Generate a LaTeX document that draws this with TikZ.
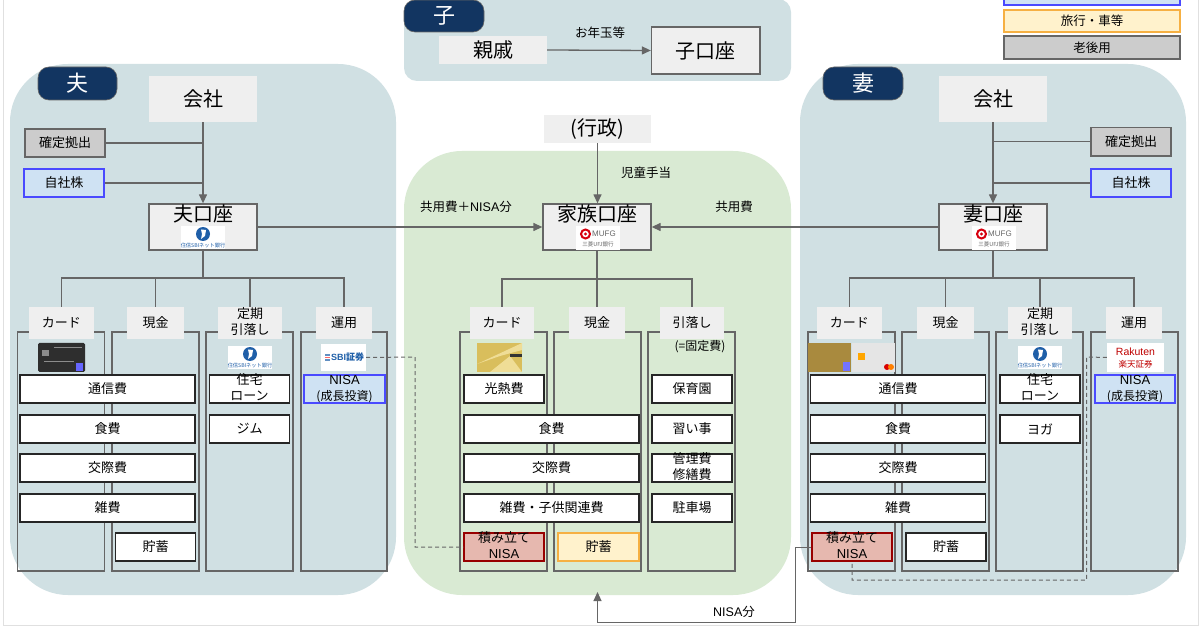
\documentclass[tikz,border=0pt]{standalone}
\usepackage{fontspec}
\setmainfont{Noto Sans CJK JP}
\newfontfamily\latf{Liberation Sans}
\usetikzlibrary{arrows.meta,calc}
\definecolor{panelblue}{HTML}{D0E0E3}
\definecolor{panelgreen}{HTML}{D9EAD3}
\definecolor{navy}{HTML}{123561}
\definecolor{lightg}{HTML}{EFEFEF}
\definecolor{lineg}{HTML}{666666}
\definecolor{old}{HTML}{CCCCCC}
\definecolor{bluef}{HTML}{CFE2F3}
\definecolor{blueb}{HTML}{4A4AFF}
\definecolor{redf}{HTML}{E6B8AF}
\definecolor{redb}{HTML}{980000}
\definecolor{yelf}{HTML}{FFF2CC}
\definecolor{yelb}{HTML}{F6B042}
\definecolor{mufgred}{HTML}{D7000F}
\definecolor{sbiblue}{HTML}{1F5FA8}
\definecolor{goldA}{HTML}{D9BE5C}
\definecolor{goldB}{HTML}{EFDD96}
\definecolor{goldC}{HTML}{A98A3E}
\newcommand{\fsz}[1]{\fontsize{#1}{#1}\selectfont}
\newcommand{\lat}[1]{{\latf #1}}
\newcommand{\twol}[2]{\raisebox{-3.4pt}[0pt][0pt]{\fontsize{13}{16}\selectfont\begin{tabular}{@{}c@{}}#1\\#2\end{tabular}}}
\newcommand{\topt}[1]{\raisebox{5pt}[0pt][0pt]{#1}}
% \bx{style}{name}{x1}{y1}{x2}{y2}{text}
\newcommand{\bx}[7]{\node[#1,minimum width={(#5-#3)*1pt},minimum height={(#6-#4)*1pt}] (#2) at ({(#3+#5)/2},{(#4+#6)/2}) {#7};}
\newcommand{\sbilogo}[3]{%
  \bx{logobg}{#1}{#2}{#3}{#2+44}{#3+23}{}
  \fill[sbiblue] (#2+22,#3+8) circle (7pt);
  \fill[white] (#2+20,#3+3.5) -- (#2+25,#3+4) -- (#2+24,#3+10) -- (#2+20,#3+13) -- (#2+21,#3+8) -- cycle;
  \node[text=sbiblue,inner sep=0pt,font=\fsz{5.2}] (#1t) at (#2+22,#3+19.5) {住信SBIネット銀行};
}
\newcommand{\mufglogo}[3]{%
  \bx{logobg}{#1}{#2}{#3}{#2+44}{#3+24}{}
  \draw[mufgred,line width=2pt] (#2+9.5,#3+8) circle (4.5pt);
  \fill[mufgred] (#2+9.5,#3+8) circle (1.7pt);
  \node[text=lineg,inner sep=0pt,font=\fsz{8}\latf] (#1m) at (#2+28,#3+8) {MUFG};
  \node[text=lineg,inner sep=0pt,font=\fsz{5.5}] (#1t) at (#2+22,#3+18.5) {三菱UFJ銀行};
}
\tikzset{
  x=1pt,y=-1pt,
  panel/.style={fill=#1,draw=none,rounded corners=58pt,inner sep=0pt},
  pill/.style={fill=navy,draw=lineg,line width=0.6pt,rounded corners=11pt,text=white,font=\fsz{22},inner sep=0pt},
  plain/.style={fill=lightg,draw=none,inner sep=0pt,text=black,font=\fsz{20}},
  acct/.style={plain,draw=lineg,line width=1.3pt},
  head/.style={fill=lightg,draw=none,inner sep=0pt,font=\fsz{13}},
  col/.style={draw=lineg,line width=1.2pt,inner sep=0pt},
  bar/.style={fill=white,draw=black!85,line width=1.4pt,inner sep=0pt,font=\fsz{13}},
  oldb/.style={fill=old,draw=lineg,line width=1.4pt,inner sep=0pt,font=\fsz{13}},
  bluebx/.style={fill=bluef,draw=blueb,line width=1.4pt,inner sep=0pt,font=\fsz{13}},
  redbx/.style={fill=redf,draw=redb,line width=1.3pt,inner sep=0pt,font=\fsz{13}},
  yelbx/.style={fill=yelf,draw=yelb,line width=1.4pt,inner sep=0pt,font=\fsz{13}},
  logobg/.style={fill=white,draw=none,inner sep=0pt},
  conn/.style={draw=lineg,line width=1.3pt},
  arr/.style={conn,-{Triangle[length=9pt,width=8pt,fill=lineg]}},
  dashln/.style={draw=lineg,line width=1pt,dash pattern=on 4pt off 3pt},
  lab/.style={inner sep=0pt,font=\fsz{12.5}},
}
\begin{document}
\begin{tikzpicture}
\useasboundingbox (0,0) rectangle (1200,628);
\fill[white] (0,0) rectangle (1200,628);
\draw[black!12,line width=0.8pt] (3.5,0) -- (3.5,625.5) -- (1198,625.5) -- (1198,0);
% panels
\bx{panel=panelblue}{husP}{10}{64}{396}{595}{}
\bx{panel=panelgreen}{famP}{404}{151}{791}{595}{}
\bx{panel=panelblue}{wifP}{800}{64}{1186}{595}{}
\bx{panel=panelblue,rounded corners=13pt}{kidP}{404}{-1}{791}{81}{}
% legend
\bx{bluebx}{legA}{1004}{-10}{1180}{5}{}
\bx{yelbx,font=\fsz{12.5}}{legB}{1004}{10}{1180}{32}{旅行・車等}
\bx{oldb,font=\fsz{12.5}}{legC}{1004}{36}{1180}{59}{老後用}
% child
\bx{pill}{kidL}{404}{0}{484}{32}{子}
\bx{plain}{kidR}{439}{36}{547}{64}{親戚}
\bx{acct}{kidA}{651.5}{27}{760}{74}{子口座}
\draw[arr] (kidR.east) -- (kidA.west);
\node[lab] (kidT) at (600,33) {お年玉等};
% ---------- husband
\bx{pill}{husL}{38}{67}{117}{100}{夫}
\bx{col}{husC1}{17.5}{332}{104.5}{571}{}
\bx{col}{husC2}{112}{332}{199}{571}{}
\bx{col}{husC3}{206}{332}{293}{571}{}
\bx{col}{husC4}{301}{332}{387}{571}{}
\bx{plain}{husCo}{149}{76}{257}{122}{会社}
\bx{oldb}{husD}{25}{129}{105}{157}{確定拠出}
\bx{bluebx}{husS}{24}{169}{104}{197}{自社株}
\bx{acct}{husA}{149}{204}{257}{250}{\topt{夫口座}}
\draw[arr] (husCo.south) -- (husA.north);
\draw[conn] (husD.east) -- (husD.east -| husCo.south);
\draw[conn] (husS.east) -- (husS.east -| husCo.south);
\bx{head}{husH1}{29}{307}{93.5}{339}{カード}
\bx{head}{husH2}{127}{307}{184}{339}{現金}
\bx{head}{husH3}{218}{307}{282}{339}{\twol{定期}{引落し}}
\bx{head}{husH4}{316}{307}{372}{339}{運用}
\coordinate (husJ) at (203,278);
\draw[conn] (husA.south) -- (husJ);
\draw[conn] (husJ) -| (husH1.north);
\draw[conn] (husJ) -| (husH2.north);
\draw[conn] (husJ) -| (husH3.north);
\draw[conn] (husJ) -| (husH4.north);
\sbilogo{husAL}{181}{226}
\bx{bar}{husB1}{20}{375}{195}{403}{通信費}
\bx{bar}{husB2}{20}{415}{195}{443}{食費}
\bx{bar}{husB3}{20}{454}{195}{482}{交際費}
\bx{bar}{husB4}{20}{494}{195}{522}{雑費}
\bx{bar}{husB5}{115.5}{533}{195.5}{561}{貯蓄}
\bx{bar}{husB6}{209.5}{375}{289.5}{403}{\twol{住宅}{ローン}}
\bx{bar}{husB7}{209.5}{415}{289.5}{443}{ジム}
\bx{bluebx}{husB8}{304}{375}{385}{403}{\twol{\lat{\fsz{13}NISA}}{\fsz{12}(成長投資)}}
% black card
\bx{fill=black!82,draw=none,rounded corners=1.5pt,inner sep=0pt}{husCard}{38}{343}{85}{372}{}
\fill[black!45] (42,350) rectangle (49,356);
\fill[blue!60!white] (76,363) rectangle (83,371);
\draw[white!55!black,line width=0.5pt] (54,347) -- (82,347);
\draw[white!55!black,line width=0.5pt] (44,361) -- (74,361);
\sbilogo{husL3}{228}{346}
\bx{logobg}{husSBI}{321}{344}{366}{371}{}
\fill[sbiblue!70] (325,354.5) rectangle (330,356);
\fill[red!60] (325,357) rectangle (330,358);
\fill[sbiblue!70] (325,359) rectangle (330,361);
\node[text=sbiblue,inner sep=0pt,font=\fsz{9}\bfseries] (husSBIt) at (347.5,357.5) {\lat{SBI}証券};
\coordinate (dashA) at (415,357);
% ---------- family
\bx{plain}{famG}{544}{115}{651}{143}{(行政)}
\bx{acct}{famA}{543}{204}{651}{250}{\topt{家族口座}}
\draw[arr] (famG.south) -- (famG.south |- famA.north);
\draw[arr] (husA.east |- 0,227) -- (famA.west |- 0,227);
\node[lab] (famT1) at (646,173) {児童手当};
\node[lab] (famT2) at (466,207) {共用費＋\lat{NISA}分};
\node[lab] (famT3) at (734,207) {共用費};
\bx{col}{famC1}{460}{332}{547}{571}{}
\bx{col}{famC2}{554}{332}{641}{571}{}
\bx{col}{famC3}{648}{332}{735}{571}{}
\bx{head}{famH1}{470}{307}{534}{339}{カード}
\bx{head}{famH2}{569}{307}{625}{339}{現金}
\bx{head}{famH3}{660}{307}{724}{339}{引落し}
\coordinate (famJ) at (597,279);
\draw[conn] (famA.south) -- (famJ);
\draw[conn] (famJ) -| (famH1.north);
\draw[conn] (famJ) -| (famH2.north);
\draw[conn] (famJ) -| (famH3.north);
\mufglogo{famAL}{576}{226}
\node[lab,font=\fsz{12}] (famFix) at (700,347) {(=固定費)};
% gold card
\bx{fill=goldA,draw=none,inner sep=0pt}{famCard}{477}{343}{522}{372}{}
\fill[goldB] (477,364) -- (522,343) -- (522,350) -- (500,356) -- cycle;
\fill[goldB] (490,372) -- (510,356) -- (522,372) -- cycle;
\fill[black!80] (510,354.5) rectangle (522,357.5);
\bx{bar}{famB1}{464}{375}{544}{403}{光熱費}
\bx{bar}{famB2}{464}{415}{639}{443}{食費}
\bx{bar}{famB3}{464}{454}{639}{482}{交際費}
\bx{bar}{famB4}{464}{494}{639}{522}{雑費・子供関連費}
\bx{redbx}{famT}{464}{533}{544}{561}{\twol{積み立て}{\lat{NISA}}}
\bx{yelbx}{famS}{558}{533}{639}{561}{貯蓄}
\bx{bar}{famB5}{652}{375}{732}{403}{保育園}
\bx{bar}{famB6}{652}{415}{732}{443}{習い事}
\bx{bar}{famB7}{652}{454}{732}{482}{\twol{管理費}{修繕費}}
\bx{bar}{famB8}{652}{494}{732}{522}{駐車場}
\draw[dashln] (husSBI.east) -- (dashA) |- (famT.west);
% ---------- wife
\bx{pill}{wifL}{823}{67}{903}{100}{妻}
\bx{col}{wifC1}{808}{332}{895}{571}{}
\bx{col}{wifC2}{902}{332}{989}{571}{}
\bx{col}{wifC3}{996}{332}{1083}{571}{}
\bx{col}{wifC4}{1091}{332}{1178}{571}{}
\bx{plain}{wifCo}{939}{76}{1047}{122}{会社}
\bx{oldb}{wifD}{1091}{127.5}{1171}{156}{確定拠出}
\bx{bluebx}{wifS}{1091}{169}{1171}{197}{自社株}
\bx{acct}{wifA}{939}{204}{1047}{250}{\topt{妻口座}}
\draw[arr] (wifCo.south) -- (wifA.north);
\draw[conn] (wifD.west) -- (wifD.west -| wifCo.south);
\draw[conn] (wifS.west) -- (wifS.west -| wifCo.south);
\draw[arr] (wifA.west) -- (famA.east |- wifA.west);
\bx{head}{wifH1}{817}{307}{881.5}{339}{カード}
\bx{head}{wifH2}{917}{307}{974}{339}{現金}
\bx{head}{wifH3}{1008}{307}{1072}{339}{\twol{定期}{引落し}}
\bx{head}{wifH4}{1106}{307}{1162}{339}{運用}
\coordinate (wifJ) at (993,278);
\draw[conn] (wifA.south) -- (wifJ);
\draw[conn] (wifJ) -| (wifH1.north);
\draw[conn] (wifJ) -| (wifH2.north);
\draw[conn] (wifJ) -| (wifH3.north);
\draw[conn] (wifJ) -| (wifH4.north);
\mufglogo{wifAL}{972}{226}
\bx{bar}{wifB1}{810.5}{375}{985.5}{403}{通信費}
\bx{bar}{wifB2}{810.5}{415}{985.5}{443}{食費}
\bx{bar}{wifB3}{810.5}{454}{985.5}{482}{交際費}
\bx{bar}{wifB4}{810.5}{494}{985.5}{522}{雑費}
\bx{bar}{wifB5}{906}{533}{986}{561}{貯蓄}
\bx{redbx}{wifT}{812}{533}{892}{561}{\twol{積み立て}{\lat{NISA}}}
\bx{bar}{wifB6}{1000}{375}{1080}{403}{\twol{住宅}{ローン}}
\bx{bar}{wifB7}{1000}{415}{1080}{443}{ヨガ}
\bx{bluebx}{wifB8}{1095}{375}{1175}{403}{\twol{\lat{\fsz{13}NISA}}{\fsz{12}(成長投資)}}
% two cards
\bx{fill=goldC,draw=none,inner sep=0pt}{wifCard1}{808}{343}{851}{372}{}
\bx{fill=black!10,draw=none,inner sep=0pt}{wifCard2}{852}{343}{895}{372}{}
\fill[orange!70!yellow] (858,353) rectangle (865,360);
\fill[red!85!black] (887,367) circle (3pt);
\fill[orange] (891,367) circle (3pt);
\fill[blue!55] (843,362) rectangle (850,371);
\sbilogo{wifL3}{1018}{346}
\bx{logobg}{wifRak}{1107}{343}{1164}{372}{}
\node[text=red!75!black,inner sep=0pt,font=\fsz{10.5}\latf] (wifRak1) at (1135.5,351.5) {Rakuten};
\node[text=red!75!black,inner sep=0pt,font=\fsz{8.5}] (wifRak2) at (1135.5,364.5) {楽天証券};
\coordinate (dashB) at (1086.7,357);
\coordinate (dashC) at (1086.7,580);
\draw[dashln] (wifRak.west) -- (dashB) -- (dashC) -| (wifT.south);
% NISA return
\coordinate (nisaA) at (795,547);
\coordinate (nisaB) at (795,622);
\coordinate (nisaC) at (597.5,592);
\draw[arr,line width=1pt] (wifT.west) -- (nisaA) -- (nisaB) -| (nisaC);
\node[lab] (nisaT) at (734,612) {\lat{NISA}分};
\end{tikzpicture}
\end{document}
